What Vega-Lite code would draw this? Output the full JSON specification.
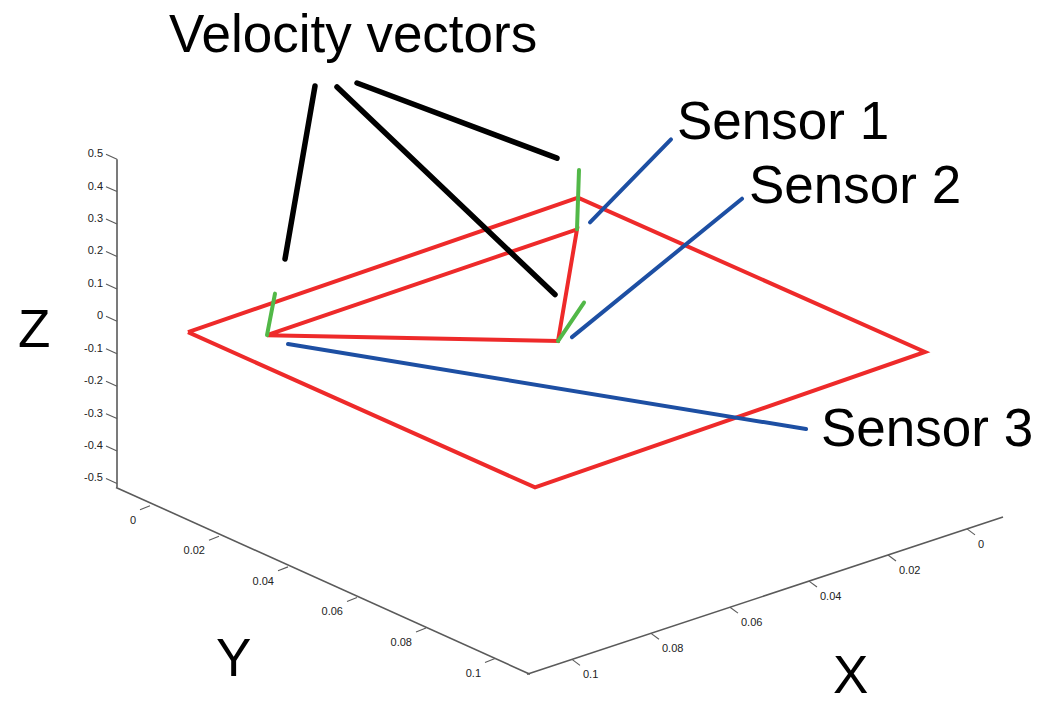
{
  "$schema": "https://vega.github.io/schema/vega-lite/v6.json",
  "description": "Sensor triangle inside the square sensing area, with velocity vectors, drawn as a projected 3-D view (X, Y in m, Z).",
  "width": 1044,
  "height": 704,
  "autosize": {"type": "fit", "contains": "padding"},
  "padding": 0,
  "background": "white",
  "config": {"view": {"stroke": null}, "font": "Liberation Sans"},
  "datasets": {
    "box_axes": [
      {"axis": "Z", "x": 117, "y": 161, "x2": 117, "y2": 493},
      {"axis": "Y", "x": 116, "y": 493, "x2": 530, "y2": 682},
      {"axis": "X", "x": 527, "y": 682, "x2": 1003, "y2": 523}
    ],
    "z_ticks": [
      {"label": "0.5", "x": 117, "y": 161.0, "x2": 106, "y2": 156.0},
      {"label": "0.4", "x": 117, "y": 193.8, "x2": 106, "y2": 188.8},
      {"label": "0.3", "x": 117, "y": 226.6, "x2": 106, "y2": 221.6},
      {"label": "0.2", "x": 117, "y": 259.4, "x2": 106, "y2": 254.4},
      {"label": "0.1", "x": 117, "y": 292.2, "x2": 106, "y2": 287.2},
      {"label": "0", "x": 117, "y": 325.0, "x2": 106, "y2": 320.0},
      {"label": "-0.1", "x": 117, "y": 357.8, "x2": 106, "y2": 352.8},
      {"label": "-0.2", "x": 117, "y": 390.6, "x2": 106, "y2": 385.6},
      {"label": "-0.3", "x": 117, "y": 423.4, "x2": 106, "y2": 418.4},
      {"label": "-0.4", "x": 117, "y": 456.2, "x2": 106, "y2": 451.2},
      {"label": "-0.5", "x": 117, "y": 489.0, "x2": 106, "y2": 484.0}
    ],
    "y_ticks": [
      {"label": "0", "x": 150, "y": 511.6, "x2": 140, "y2": 515.6},
      {"label": "0.02", "x": 219, "y": 542.5, "x2": 209, "y2": 546.5},
      {"label": "0.04", "x": 288, "y": 573.4, "x2": 278, "y2": 577.4},
      {"label": "0.06", "x": 357, "y": 604.3, "x2": 347, "y2": 608.3},
      {"label": "0.08", "x": 426, "y": 635.2, "x2": 416, "y2": 639.2},
      {"label": "0.1", "x": 495, "y": 666.1, "x2": 485, "y2": 670.1}
    ],
    "x_ticks": [
      {"label": "0", "x": 967, "y": 535.0, "x2": 975, "y2": 541.0},
      {"label": "0.02", "x": 888, "y": 561.4, "x2": 896, "y2": 567.4},
      {"label": "0.04", "x": 809, "y": 587.8, "x2": 817, "y2": 593.8},
      {"label": "0.06", "x": 730, "y": 614.2, "x2": 738, "y2": 620.2},
      {"label": "0.08", "x": 651, "y": 640.6, "x2": 659, "y2": 646.6},
      {"label": "0.1", "x": 572, "y": 667.0, "x2": 580, "y2": 673.0}
    ],
    "outlines": [
      {"shape": "area", "order": 0, "x": 188, "y": 336},
      {"shape": "area", "order": 1, "x": 578, "y": 200},
      {"shape": "area", "order": 2, "x": 925, "y": 356},
      {"shape": "area", "order": 3, "x": 535, "y": 493},
      {"shape": "area", "order": 4, "x": 188, "y": 336},
      {"shape": "sensors", "order": 0, "x": 267, "y": 339},
      {"shape": "sensors", "order": 1, "x": 577, "y": 232},
      {"shape": "sensors", "order": 2, "x": 558, "y": 345},
      {"shape": "sensors", "order": 3, "x": 267, "y": 339}
    ],
    "velocity": [
      {"sensor": "Sensor 3", "x": 267, "y": 339, "x2": 275, "y2": 297},
      {"sensor": "Sensor 1", "x": 577, "y": 232, "x2": 579, "y2": 172},
      {"sensor": "Sensor 2", "x": 558, "y": 345, "x2": 584, "y2": 306}
    ],
    "sensor_leaders": [
      {"sensor": "Sensor 1", "x": 590, "y": 225, "x2": 671, "y2": 141},
      {"sensor": "Sensor 2", "x": 572, "y": 341, "x2": 742, "y2": 201},
      {"sensor": "Sensor 3", "x": 288, "y": 348, "x2": 806, "y2": 434}
    ],
    "vector_leaders": [
      {"target": "Sensor 3", "x": 315, "y": 87, "x2": 285, "y2": 262},
      {"target": "Sensor 2", "x": 337, "y": 88, "x2": 555, "y2": 298},
      {"target": "Sensor 1", "x": 357, "y": 84, "x2": 557, "y2": 160}
    ],
    "captions": [
      {"label": "Velocity vectors", "x": 169, "y": 53},
      {"label": "Sensor 1", "x": 677, "y": 141},
      {"label": "Sensor 2", "x": 749, "y": 205},
      {"label": "Sensor 3", "x": 821, "y": 451},
      {"label": "Z", "x": 18, "y": 351},
      {"label": "Y", "x": 216, "y": 684},
      {"label": "X", "x": 833, "y": 701}
    ]
  },
  "encoding": {
    "x": {"field": "x", "type": "quantitative", "scale": {"domain": [0, 1044], "nice": false, "zero": false}, "axis": null},
    "y": {"field": "y", "type": "quantitative", "scale": {"domain": [0, 704], "nice": false, "zero": false, "reverse": true}, "axis": null}
  },
  "layer": [
    {
      "data": {"name": "box_axes"},
      "mark": {"type": "rule", "color": "#5a5a5a", "strokeWidth": 1.6},
      "encoding": {"x2": {"field": "x2"}, "y2": {"field": "y2"}}
    },
    {
      "data": {"name": "z_ticks"},
      "layer": [
        {"mark": {"type": "rule", "color": "#5a5a5a", "strokeWidth": 1.1}, "encoding": {"x2": {"field": "x2"}, "y2": {"field": "y2"}}},
        {"mark": {"type": "text", "align": "right", "baseline": "middle", "dx": -14, "dy": -5, "fontSize": 11, "color": "#222222"}, "encoding": {"text": {"field": "label"}}}
      ]
    },
    {
      "data": {"name": "y_ticks"},
      "layer": [
        {"mark": {"type": "rule", "color": "#5a5a5a", "strokeWidth": 1.1}, "encoding": {"x2": {"field": "x2"}, "y2": {"field": "y2"}}},
        {"mark": {"type": "text", "align": "right", "baseline": "middle", "dx": -14, "dy": 15, "fontSize": 11, "color": "#222222"}, "encoding": {"text": {"field": "label"}}}
      ]
    },
    {
      "data": {"name": "x_ticks"},
      "layer": [
        {"mark": {"type": "rule", "color": "#5a5a5a", "strokeWidth": 1.1}, "encoding": {"x2": {"field": "x2"}, "y2": {"field": "y2"}}},
        {"mark": {"type": "text", "align": "left", "baseline": "middle", "dx": 11, "dy": 16, "fontSize": 11, "color": "#222222"}, "encoding": {"text": {"field": "label"}}}
      ]
    },
    {
      "data": {"name": "outlines"},
      "mark": {"type": "line", "color": "#ee2a2a", "strokeWidth": 4, "strokeJoin": "miter", "strokeCap": "butt"},
      "encoding": {"order": {"field": "order", "type": "quantitative"}, "detail": {"field": "shape", "type": "nominal"}}
    },
    {
      "data": {"name": "velocity"},
      "mark": {"type": "rule", "color": "#52b848", "strokeWidth": 4, "strokeCap": "round"},
      "encoding": {"x2": {"field": "x2"}, "y2": {"field": "y2"}}
    },
    {
      "data": {"name": "sensor_leaders"},
      "mark": {"type": "rule", "color": "#1d4fa3", "strokeWidth": 4, "strokeCap": "round"},
      "encoding": {"x2": {"field": "x2"}, "y2": {"field": "y2"}}
    },
    {
      "data": {"name": "vector_leaders"},
      "mark": {"type": "rule", "color": "#000000", "strokeWidth": 5.5, "strokeCap": "round"},
      "encoding": {"x2": {"field": "x2"}, "y2": {"field": "y2"}}
    },
    {
      "data": {"name": "captions"},
      "mark": {"type": "text", "align": "left", "baseline": "alphabetic", "fontSize": 53, "color": "#000000"},
      "encoding": {"text": {"field": "label"}}
    }
  ]
}
